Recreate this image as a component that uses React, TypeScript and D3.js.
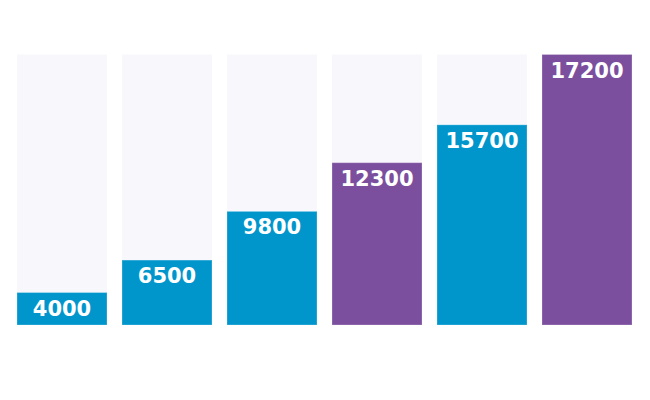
import { scaleBand, scaleLinear } from "d3";

// bar heights are relative shares; labels are the printed amounts
const categories = ["a", "b", "c", "d", "e", "f"];
const shares = [12, 24, 42, 60, 74, 100];
const labels = ["4000", "6500", "9800", "12300", "15700", "17200"];
const highlight = [false, false, false, true, false, true];

export default function App() {
  const width = 650;
  const height = 400;
  const margin = { top: 54.5, right: 18, bottom: 75, left: 17 };

  const x = scaleBand<string>()
    .domain(categories)
    .range([margin.left, width - margin.right])
    .paddingInner(15 / 105)
    .paddingOuter(0);
  const y = scaleLinear()
    .domain([0, 100])
    .range([height - margin.bottom, margin.top]);

  return (
    <svg
      width={width}
      height={height}
      viewBox={`0 0 ${width} ${height}`}
      style={{ position: "absolute", left: 0, top: 0, background: "#fff" }}
    >
      {categories.map((c) => (
        <rect
          key={`bg-${c}`}
          x={x(c)}
          y={y(100)}
          width={x.bandwidth()}
          height={y(0) - y(100)}
          fill="#f8f8fc"
        />
      ))}
      {categories.map((c, i) => (
        <g key={c}>
          <rect
            x={x(c)}
            y={y(shares[i])}
            width={x.bandwidth()}
            height={y(0) - y(shares[i])}
            fill={highlight[i] ? "#7b4f9e" : "#0096cc"}
            stroke="rgba(255,255,255,0.25)"
            strokeWidth={1}
          />
          <text
            x={(x(c) ?? 0) + x.bandwidth() / 2}
            y={y(shares[i]) + 23}
            textAnchor="middle"
            fontFamily="'DejaVu Sans', sans-serif"
            fontWeight={700}
            fontSize={21}
            fill="#fff"
          >
            {labels[i]}
          </text>
        </g>
      ))}
    </svg>
  );
}
